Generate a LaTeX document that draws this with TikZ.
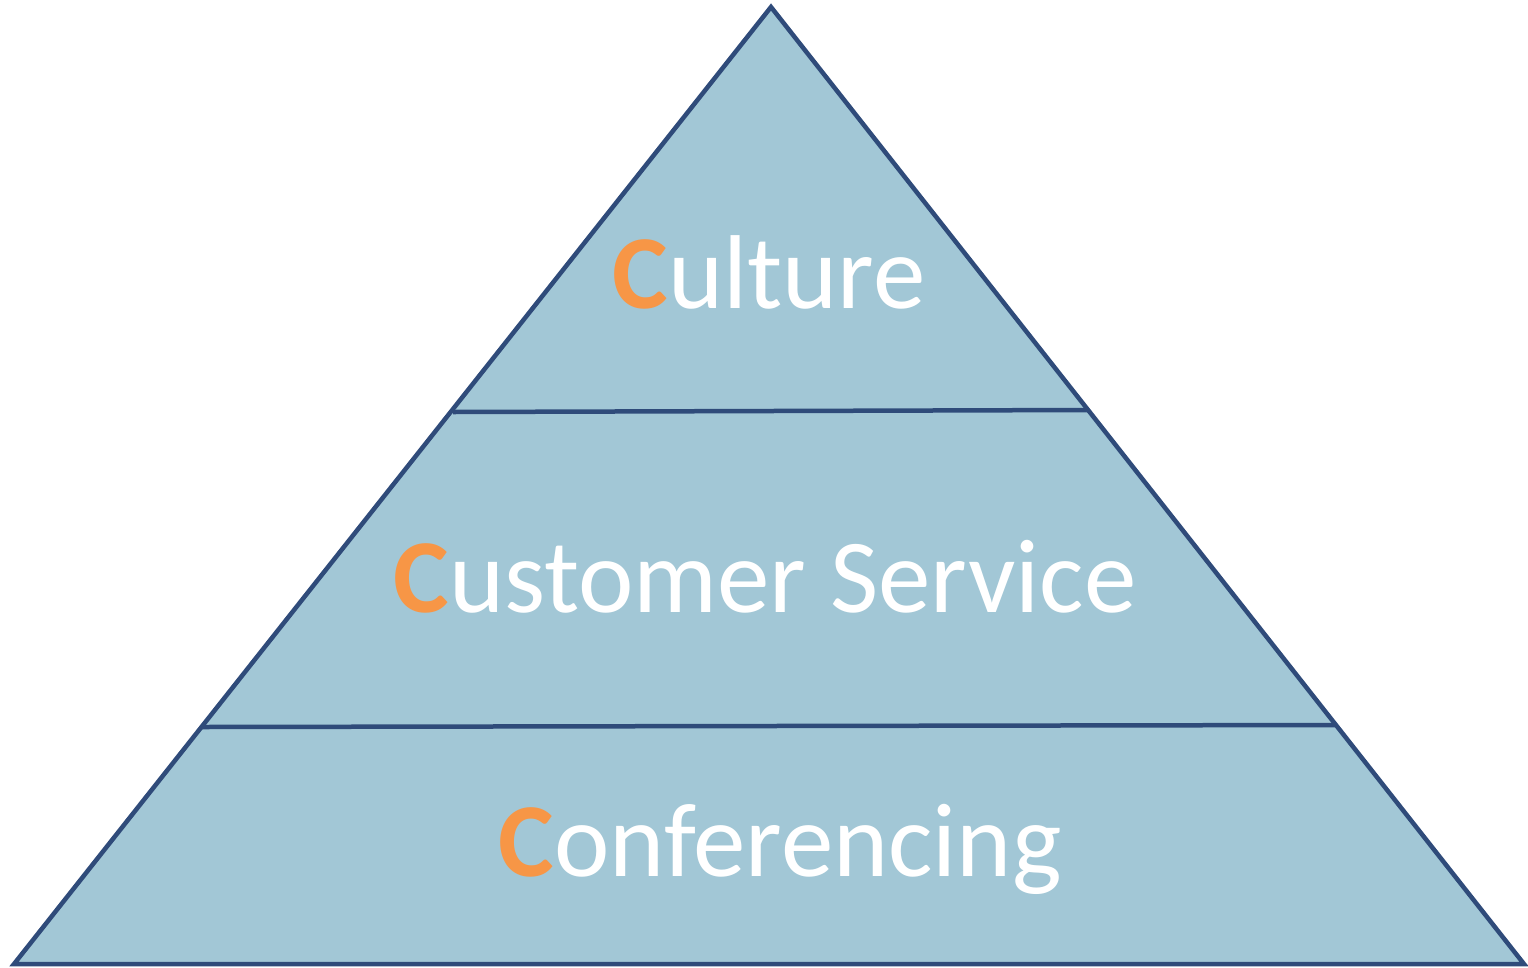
\documentclass[tikz,border=0pt]{standalone}
\usepackage{fontspec}
\setmainfont{Carlito}
\definecolor{pfill}{HTML}{A2C7D6}
\definecolor{pline}{HTML}{2F4B7A}
\definecolor{corange}{HTML}{F79646}
\tikzset{
  layer/.style={font=\fontsize{105}{115}\selectfont, text=white, anchor=base, inner sep=0pt},
}
\newcommand{\bigC}{{\bfseries\color{corange}C}}
\begin{document}
\begin{tikzpicture}[x=1pt,y=-1pt]
\useasboundingbox (0,0) rectangle (1528,967);
\coordinate (apex) at (771,7);
\coordinate (bl) at (14,964);
\coordinate (br) at (1524,964);
\coordinate (l1a) at (453,412);
\coordinate (l1b) at (1089,410);
\coordinate (l2a) at (202,727);
\coordinate (l2b) at (1337,725);
\filldraw[fill=pfill, draw=pline, line width=4.5pt, line join=miter] (apex) -- (br) -- (bl) -- cycle;
\draw[pline, line width=4.5pt] (l1a) -- (l1b);
\draw[pline, line width=4.5pt] (l2a) -- (l2b);
\node[layer] (t1) at (769,308) {\bigC ulture};
\node[layer] (t2) at (765,612) {\bigC ustomer Service};
\node[layer] (t3) at (780,876) {\bigC onferencing};
\end{tikzpicture}
\end{document}
